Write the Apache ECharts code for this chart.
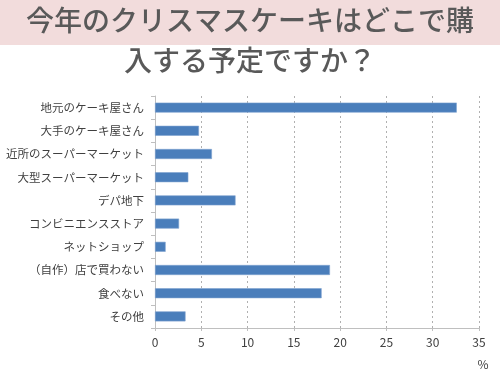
<!DOCTYPE html>
<html><head><meta charset="utf-8">
<script src="https://cdn.jsdelivr.net/npm/echarts@6/dist/echarts.min.js"></script>
<style>html,body{margin:0;padding:0;background:#fff}#c{width:500px;height:375px}</style>
</head><body><div id="c"></div>
<script>
const categories = ['地元のケーキ屋さん','大手のケーキ屋さん','近所のスーパーマーケット','大型スーパーマーケット','デパ地下','コンビニエンスストア','ネットショップ','（自作）店で買わない','食べない','その他'];
const values = [32.6, 4.75, 6.15, 3.6, 8.7, 2.6, 1.15, 18.9, 18.0, 3.3];
const xTicks = [0, 5, 10, 15, 20, 25, 30, 35];
const titleText = '今年のクリスマスケーキはどこで購\n入する予定ですか？';
const unitText = '%';

const chart = echarts.init(document.getElementById('c'), null, {renderer: 'canvas'});
const font = '"Noto Sans CJK JP", "Noto Sans", sans-serif';
chart.setOption({
  backgroundColor: '#ffffff',
  animation: false,
  graphic: [
    {type: 'rect', left: 0, top: 0, z: -1, shape: {width: 500, height: 45}, style: {fill: '#f2dcdc'}},
    {type: 'text', left: 'center', top: 0, z: 10,
     style: {text: titleText, font: '500 28px ' + font, fill: '#595959', lineHeight: 40, textAlign: 'center'}}
  ],
  grid: {left: 155, right: 21, top: 96, bottom: 47, containLabel: false},
  xAxis: {
    type: 'value', min: xTicks[0], max: xTicks[xTicks.length - 1], interval: 5,
    name: unitText, nameLocation: 'end', nameGap: 0,
    nameTextStyle: {color: '#404040', fontSize: 12, fontFamily: font, padding: [30, 0, 0, 8], verticalAlign: 'top', align: 'center'},
    axisLine: {show: true, lineStyle: {color: '#bfbfbf', width: 1}},
    axisTick: {show: true, length: 3, lineStyle: {color: '#bfbfbf'}},
    axisLabel: {color: '#404040', fontSize: 12, fontFamily: font, margin: 8},
    splitLine: {show: true, lineStyle: {color: '#b0b0b0', type: [2, 3], width: 1}}
  },
  yAxis: {
    type: 'category', data: categories, inverse: true,
    axisLine: {show: true, lineStyle: {color: '#bfbfbf', width: 1}},
    axisTick: {show: true, length: 4, lineStyle: {color: '#bfbfbf'}},
    axisLabel: {color: '#404040', fontSize: 11.5, fontFamily: font, margin: 11}
  },
  series: [{
    type: 'bar', data: values, barWidth: 10,
    itemStyle: {color: '#4a7ebb', borderColor: '#7fa3d0', borderWidth: 0.6}
  }]
});
</script></body></html>
